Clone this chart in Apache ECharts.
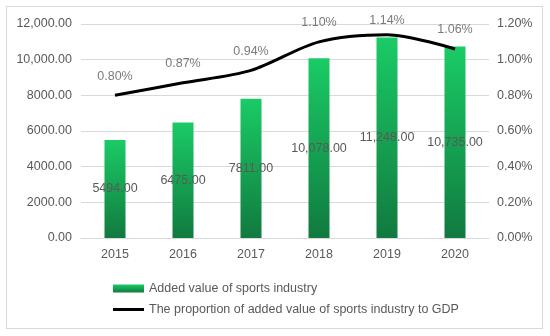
<!DOCTYPE html>
<html><head><meta charset="utf-8">
<script src="https://cdn.jsdelivr.net/npm/echarts@6/dist/echarts.min.js"></script>
<style>html,body{margin:0;padding:0;background:#fff}#c{width:550px;height:336px}
#frame{position:absolute;left:6px;top:6px;width:535px;height:321px;border:1px solid #d9d9d9;pointer-events:none}</style>
</head><body><div id="c"></div><div id="frame"></div>
<script>
const years = ['2015','2016','2017','2018','2019','2020'];
const addedValue = [5494, 6475, 7811, 10078, 11248, 10735];
const gdpShare = [0.80, 0.87, 0.94, 1.10, 1.14, 1.06];
const barName = 'Added value of sports industry';
const lineName = 'The proportion of added value of sports industry to GDP';

function fmtNum(v){
  const s = Number(v).toFixed(2);
  if (Math.abs(v) >= 10000) {
    const [i,d] = s.split('.');
    return i.replace(/\B(?=(\d{3})+(?!\d))/g, ',') + '.' + d;
  }
  return s;
}
const FONT = 'Liberation Sans';
const TXT = '#595959';
const FS = 12.5;
const chart = echarts.init(document.getElementById('c'));
chart.setOption({
  animation:false,
  textStyle:{fontFamily:FONT},
  grid:{left:81,right:61,top:24,bottom:98},
  legend:{
    orient:'vertical', left:108, top:277, itemGap:8, itemWidth:31, itemHeight:8,
    textStyle:{color:TXT,fontSize:FS,fontFamily:FONT},
    data:[{name:barName,icon:'rect'},{name:lineName,icon:'path://M0,0L0.01,0L0.01,0.01ZM0,2.5H31V5.5H0ZM0,8L0.01,8L0.01,7.99Z'}]
  },
  xAxis:{type:'category',data:years,
    axisLine:{show:true,lineStyle:{color:'#d9d9d9'}},axisTick:{show:false},
    axisLabel:{color:TXT,fontSize:FS,margin:10}},
  yAxis:[
    {type:'value',min:0,max:12000,interval:2000,
     axisLabel:{color:TXT,fontSize:FS,margin:9,formatter:fmtNum},
     splitLine:{lineStyle:{color:'#d9d9d9'}}},
    {type:'value',min:0,max:1.2,interval:0.2,
     axisLabel:{color:TXT,fontSize:FS,margin:8,formatter:v=>v.toFixed(2)+'%'},
     splitLine:{show:false}}
  ],
  series:[
    {name:barName,type:'bar',data:addedValue,barWidth:21,
     itemStyle:{color:new echarts.graphic.LinearGradient(0,0,0,1,[{offset:0,color:'#1acb66'},{offset:1,color:'#117a3f'}])},
     label:{show:true,position:'inside',color:TXT,fontSize:FS,formatter:p=>fmtNum(p.value)}},
    {name:lineName,type:'line',yAxisIndex:1,smooth:0.3,symbol:'none',
     data:gdpShare,
     lineStyle:{color:'#000',width:3},itemStyle:{color:'#000'}},
    {name:'labels',type:'scatter',yAxisIndex:1,symbolSize:1,
     itemStyle:{color:'rgba(0,0,0,0)'},
     data:gdpShare.map((v,i)=> i===4 ? {value:v,label:{distance:7}} : v),
     label:{show:true,position:'top',distance:12,color:TXT,fontSize:FS,formatter:p=>p.value.toFixed(2)+'%'}}
  ]
});
</script></body></html>
